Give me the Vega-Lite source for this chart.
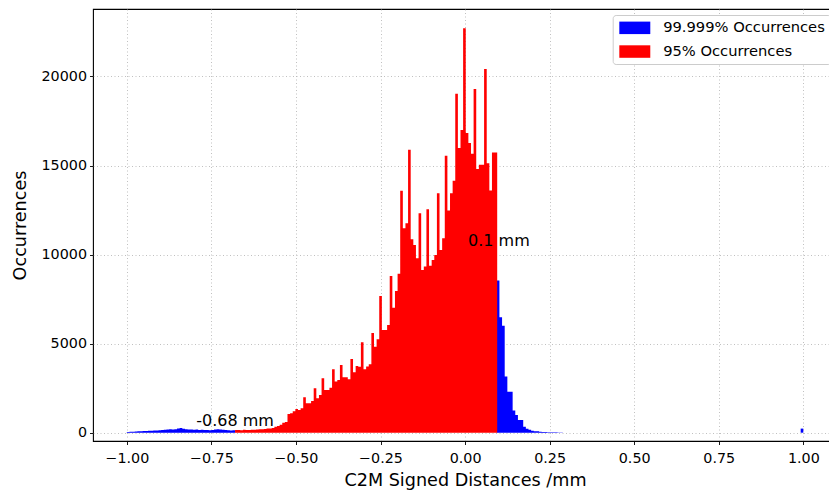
{
  "$schema": "https://vega.github.io/schema/vega-lite/v6.json",
  "width": 737,
  "height": 432,
  "autosize": {"type": "none"},
  "padding": {"left": 93, "top": 9, "right": 0, "bottom": 51},
  "background": "white",
  "config": {
    "font": "DejaVu Sans",
    "view": {"stroke": "#000000", "strokeWidth": 1.1},
    "axis": {
      "domain": false,
      "grid": true,
      "gridColor": "#b0b0b0",
      "gridDash": [1, 2.5],
      "gridWidth": 0.8,
      "tickColor": "#000000",
      "tickSize": 3.5,
      "tickWidth": 0.9,
      "labelFont": "DejaVu Sans",
      "labelFontSize": 14.3,
      "labelColor": "#000000",
      "labelPadding": 3,
      "titleFont": "DejaVu Sans",
      "titleFontSize": 17.6,
      "titleFontWeight": "normal",
      "titleColor": "#000000"
    }
  },
  "datasets": {
    "bars": [
      {"s": "99.999% Occurrences", "g": "L", "a": -1, "n": 40},
      {"s": "99.999% Occurrences", "g": "L", "a": -0.99219, "n": 55},
      {"s": "99.999% Occurrences", "g": "L", "a": -0.98438, "n": 60},
      {"s": "99.999% Occurrences", "g": "L", "a": -0.97656, "n": 70},
      {"s": "99.999% Occurrences", "g": "L", "a": -0.96875, "n": 75},
      {"s": "99.999% Occurrences", "g": "L", "a": -0.96094, "n": 85},
      {"s": "99.999% Occurrences", "g": "L", "a": -0.95313, "n": 95},
      {"s": "99.999% Occurrences", "g": "L", "a": -0.94531, "n": 100},
      {"s": "99.999% Occurrences", "g": "L", "a": -0.9375, "n": 110},
      {"s": "99.999% Occurrences", "g": "L", "a": -0.92969, "n": 105},
      {"s": "99.999% Occurrences", "g": "L", "a": -0.92188, "n": 120},
      {"s": "99.999% Occurrences", "g": "L", "a": -0.91406, "n": 125},
      {"s": "99.999% Occurrences", "g": "L", "a": -0.90625, "n": 135},
      {"s": "99.999% Occurrences", "g": "L", "a": -0.89844, "n": 150},
      {"s": "99.999% Occurrences", "g": "L", "a": -0.89063, "n": 170},
      {"s": "99.999% Occurrences", "g": "L", "a": -0.88281, "n": 180},
      {"s": "99.999% Occurrences", "g": "L", "a": -0.875, "n": 190},
      {"s": "99.999% Occurrences", "g": "L", "a": -0.86719, "n": 175},
      {"s": "99.999% Occurrences", "g": "L", "a": -0.85938, "n": 200},
      {"s": "99.999% Occurrences", "g": "L", "a": -0.85156, "n": 240},
      {"s": "99.999% Occurrences", "g": "L", "a": -0.84375, "n": 260},
      {"s": "99.999% Occurrences", "g": "L", "a": -0.83594, "n": 220},
      {"s": "99.999% Occurrences", "g": "L", "a": -0.82813, "n": 195},
      {"s": "99.999% Occurrences", "g": "L", "a": -0.82031, "n": 185},
      {"s": "99.999% Occurrences", "g": "L", "a": -0.8125, "n": 175},
      {"s": "99.999% Occurrences", "g": "L", "a": -0.80469, "n": 165},
      {"s": "99.999% Occurrences", "g": "L", "a": -0.79688, "n": 185},
      {"s": "99.999% Occurrences", "g": "L", "a": -0.78906, "n": 155},
      {"s": "99.999% Occurrences", "g": "L", "a": -0.78125, "n": 165},
      {"s": "99.999% Occurrences", "g": "L", "a": -0.77344, "n": 150},
      {"s": "99.999% Occurrences", "g": "L", "a": -0.76563, "n": 155},
      {"s": "99.999% Occurrences", "g": "L", "a": -0.75781, "n": 140},
      {"s": "99.999% Occurrences", "g": "L", "a": -0.75, "n": 155},
      {"s": "99.999% Occurrences", "g": "L", "a": -0.74219, "n": 175},
      {"s": "99.999% Occurrences", "g": "L", "a": -0.73438, "n": 200},
      {"s": "99.999% Occurrences", "g": "L", "a": -0.72656, "n": 185},
      {"s": "99.999% Occurrences", "g": "L", "a": -0.71875, "n": 165},
      {"s": "99.999% Occurrences", "g": "L", "a": -0.71094, "n": 150},
      {"s": "99.999% Occurrences", "g": "L", "a": -0.70313, "n": 140},
      {"s": "99.999% Occurrences", "g": "L", "a": -0.69531, "n": 130},
      {"s": "99.999% Occurrences", "g": "L", "a": -0.6875, "n": 140},
      {"s": "99.999% Occurrences", "g": "L", "a": -0.67969, "n": 140},
      {"s": "99.999% Occurrences", "g": "R", "a": 0.09375, "n": 8540},
      {"s": "99.999% Occurrences", "g": "R", "a": 0.10156, "n": 6480},
      {"s": "99.999% Occurrences", "g": "R", "a": 0.10938, "n": 6010},
      {"s": "99.999% Occurrences", "g": "R", "a": 0.11719, "n": 3150},
      {"s": "99.999% Occurrences", "g": "R", "a": 0.125, "n": 2300},
      {"s": "99.999% Occurrences", "g": "R", "a": 0.13281, "n": 2300},
      {"s": "99.999% Occurrences", "g": "R", "a": 0.14063, "n": 1240},
      {"s": "99.999% Occurrences", "g": "R", "a": 0.14844, "n": 990},
      {"s": "99.999% Occurrences", "g": "R", "a": 0.15625, "n": 710},
      {"s": "99.999% Occurrences", "g": "R", "a": 0.16406, "n": 710},
      {"s": "99.999% Occurrences", "g": "R", "a": 0.17188, "n": 340},
      {"s": "99.999% Occurrences", "g": "R", "a": 0.17969, "n": 225},
      {"s": "99.999% Occurrences", "g": "R", "a": 0.1875, "n": 170},
      {"s": "99.999% Occurrences", "g": "R", "a": 0.19531, "n": 112},
      {"s": "99.999% Occurrences", "g": "R", "a": 0.20313, "n": 75},
      {"s": "99.999% Occurrences", "g": "R", "a": 0.21094, "n": 75},
      {"s": "99.999% Occurrences", "g": "R", "a": 0.21875, "n": 60},
      {"s": "99.999% Occurrences", "g": "R", "a": 0.22656, "n": 40},
      {"s": "99.999% Occurrences", "g": "R", "a": 0.23438, "n": 35},
      {"s": "99.999% Occurrences", "g": "R", "a": 0.24219, "n": 30},
      {"s": "99.999% Occurrences", "g": "R", "a": 0.25, "n": 30},
      {"s": "99.999% Occurrences", "g": "R", "a": 0.25781, "n": 25},
      {"s": "99.999% Occurrences", "g": "R", "a": 0.26563, "n": 20},
      {"s": "99.999% Occurrences", "g": "R", "a": 0.27344, "n": 15},
      {"s": "99.999% Occurrences", "g": "R", "a": 0.28125, "n": 10},
      {"s": "99.999% Occurrences", "g": "R", "a": 0.28906, "n": 10},
      {"s": "99.999% Occurrences", "g": "E", "a": 0.99219, "n": 230},
      {"s": "99.999% Occurrences", "g": "E", "a": 1, "n": 230},
      {"s": "95% Occurrences", "g": "M", "a": -0.68, "n": 150},
      {"s": "95% Occurrences", "g": "M", "a": -0.67225, "n": 150},
      {"s": "95% Occurrences", "g": "M", "a": -0.6645, "n": 140},
      {"s": "95% Occurrences", "g": "M", "a": -0.65675, "n": 160},
      {"s": "95% Occurrences", "g": "M", "a": -0.649, "n": 150},
      {"s": "95% Occurrences", "g": "M", "a": -0.64125, "n": 150},
      {"s": "95% Occurrences", "g": "M", "a": -0.6335, "n": 170},
      {"s": "95% Occurrences", "g": "M", "a": -0.62575, "n": 160},
      {"s": "95% Occurrences", "g": "M", "a": -0.618, "n": 180},
      {"s": "95% Occurrences", "g": "M", "a": -0.61025, "n": 190},
      {"s": "95% Occurrences", "g": "M", "a": -0.6025, "n": 200},
      {"s": "95% Occurrences", "g": "M", "a": -0.59475, "n": 210},
      {"s": "95% Occurrences", "g": "M", "a": -0.587, "n": 230},
      {"s": "95% Occurrences", "g": "M", "a": -0.57925, "n": 240},
      {"s": "95% Occurrences", "g": "M", "a": -0.5715, "n": 260},
      {"s": "95% Occurrences", "g": "M", "a": -0.56375, "n": 340},
      {"s": "95% Occurrences", "g": "M", "a": -0.556, "n": 380},
      {"s": "95% Occurrences", "g": "M", "a": -0.54825, "n": 450},
      {"s": "95% Occurrences", "g": "M", "a": -0.5405, "n": 560},
      {"s": "95% Occurrences", "g": "M", "a": -0.53275, "n": 600},
      {"s": "95% Occurrences", "g": "M", "a": -0.525, "n": 1050},
      {"s": "95% Occurrences", "g": "M", "a": -0.51725, "n": 1090},
      {"s": "95% Occurrences", "g": "M", "a": -0.5095, "n": 1200},
      {"s": "95% Occurrences", "g": "M", "a": -0.50175, "n": 1330},
      {"s": "95% Occurrences", "g": "M", "a": -0.494, "n": 1270},
      {"s": "95% Occurrences", "g": "M", "a": -0.48625, "n": 1370},
      {"s": "95% Occurrences", "g": "M", "a": -0.4785, "n": 1985},
      {"s": "95% Occurrences", "g": "M", "a": -0.47075, "n": 1650},
      {"s": "95% Occurrences", "g": "M", "a": -0.463, "n": 1650},
      {"s": "95% Occurrences", "g": "M", "a": -0.45525, "n": 1780},
      {"s": "95% Occurrences", "g": "M", "a": -0.4475, "n": 2490},
      {"s": "95% Occurrences", "g": "M", "a": -0.43975, "n": 1930},
      {"s": "95% Occurrences", "g": "M", "a": -0.432, "n": 2120},
      {"s": "95% Occurrences", "g": "M", "a": -0.42425, "n": 3050},
      {"s": "95% Occurrences", "g": "M", "a": -0.4165, "n": 2400},
      {"s": "95% Occurrences", "g": "M", "a": -0.40875, "n": 2400},
      {"s": "95% Occurrences", "g": "M", "a": -0.401, "n": 2530},
      {"s": "95% Occurrences", "g": "M", "a": -0.39325, "n": 3560},
      {"s": "95% Occurrences", "g": "M", "a": -0.3855, "n": 2870},
      {"s": "95% Occurrences", "g": "M", "a": -0.37775, "n": 2960},
      {"s": "95% Occurrences", "g": "M", "a": -0.37, "n": 3800},
      {"s": "95% Occurrences", "g": "M", "a": -0.36225, "n": 3110},
      {"s": "95% Occurrences", "g": "M", "a": -0.3545, "n": 3110},
      {"s": "95% Occurrences", "g": "M", "a": -0.34675, "n": 3000},
      {"s": "95% Occurrences", "g": "M", "a": -0.339, "n": 4140},
      {"s": "95% Occurrences", "g": "M", "a": -0.33125, "n": 3390},
      {"s": "95% Occurrences", "g": "M", "a": -0.3235, "n": 3750},
      {"s": "95% Occurrences", "g": "M", "a": -0.31575, "n": 3700},
      {"s": "95% Occurrences", "g": "M", "a": -0.308, "n": 5080},
      {"s": "95% Occurrences", "g": "M", "a": -0.30025, "n": 3560},
      {"s": "95% Occurrences", "g": "M", "a": -0.2925, "n": 3710},
      {"s": "95% Occurrences", "g": "M", "a": -0.28475, "n": 3840},
      {"s": "95% Occurrences", "g": "M", "a": -0.277, "n": 5600},
      {"s": "95% Occurrences", "g": "M", "a": -0.26925, "n": 4830},
      {"s": "95% Occurrences", "g": "M", "a": -0.2615, "n": 5240},
      {"s": "95% Occurrences", "g": "M", "a": -0.25375, "n": 7680},
      {"s": "95% Occurrences", "g": "M", "a": -0.246, "n": 5770},
      {"s": "95% Occurrences", "g": "M", "a": -0.23825, "n": 5770},
      {"s": "95% Occurrences", "g": "M", "a": -0.2305, "n": 6050},
      {"s": "95% Occurrences", "g": "M", "a": -0.22275, "n": 8800},
      {"s": "95% Occurrences", "g": "M", "a": -0.215, "n": 7020},
      {"s": "95% Occurrences", "g": "M", "a": -0.20725, "n": 7960},
      {"s": "95% Occurrences", "g": "M", "a": -0.1995, "n": 8920},
      {"s": "95% Occurrences", "g": "M", "a": -0.19175, "n": 13580},
      {"s": "95% Occurrences", "g": "M", "a": -0.184, "n": 11480},
      {"s": "95% Occurrences", "g": "M", "a": -0.17625, "n": 11760},
      {"s": "95% Occurrences", "g": "M", "a": -0.1685, "n": 15880},
      {"s": "95% Occurrences", "g": "M", "a": -0.16075, "n": 10860},
      {"s": "95% Occurrences", "g": "M", "a": -0.153, "n": 10540},
      {"s": "95% Occurrences", "g": "M", "a": -0.14525, "n": 9800},
      {"s": "95% Occurrences", "g": "M", "a": -0.1375, "n": 12320},
      {"s": "95% Occurrences", "g": "M", "a": -0.12975, "n": 9140},
      {"s": "95% Occurrences", "g": "M", "a": -0.122, "n": 9330},
      {"s": "95% Occurrences", "g": "M", "a": -0.11425, "n": 12550},
      {"s": "95% Occurrences", "g": "M", "a": -0.1065, "n": 9370},
      {"s": "95% Occurrences", "g": "M", "a": -0.09875, "n": 9700},
      {"s": "95% Occurrences", "g": "M", "a": -0.091, "n": 9980},
      {"s": "95% Occurrences", "g": "M", "a": -0.08325, "n": 13450},
      {"s": "95% Occurrences", "g": "M", "a": -0.0755, "n": 10260},
      {"s": "95% Occurrences", "g": "M", "a": -0.06775, "n": 10920},
      {"s": "95% Occurrences", "g": "M", "a": -0.06, "n": 15550},
      {"s": "95% Occurrences", "g": "M", "a": -0.05225, "n": 12470},
      {"s": "95% Occurrences", "g": "M", "a": -0.0445, "n": 13450},
      {"s": "95% Occurrences", "g": "M", "a": -0.03675, "n": 14140},
      {"s": "95% Occurrences", "g": "M", "a": -0.029, "n": 19030},
      {"s": "95% Occurrences", "g": "M", "a": -0.02125, "n": 15980},
      {"s": "95% Occurrences", "g": "M", "a": -0.0135, "n": 17000},
      {"s": "95% Occurrences", "g": "M", "a": -0.00575, "n": 22700},
      {"s": "95% Occurrences", "g": "M", "a": 0.002, "n": 16820},
      {"s": "95% Occurrences", "g": "M", "a": 0.00975, "n": 16260},
      {"s": "95% Occurrences", "g": "M", "a": 0.0175, "n": 15660},
      {"s": "95% Occurrences", "g": "M", "a": 0.02525, "n": 19290},
      {"s": "95% Occurrences", "g": "M", "a": 0.033, "n": 14800},
      {"s": "95% Occurrences", "g": "M", "a": 0.04075, "n": 15040},
      {"s": "95% Occurrences", "g": "M", "a": 0.0485, "n": 15040},
      {"s": "95% Occurrences", "g": "M", "a": 0.05625, "n": 20420},
      {"s": "95% Occurrences", "g": "M", "a": 0.064, "n": 15130},
      {"s": "95% Occurrences", "g": "M", "a": 0.07175, "n": 13600},
      {"s": "95% Occurrences", "g": "M", "a": 0.0795, "n": 15730},
      {"s": "95% Occurrences", "g": "M", "a": 0.08725, "n": 15730},
      {"s": "95% Occurrences", "g": "M", "a": 0.095, "n": 15730}
    ],
    "notes": [
      {"a": -0.68, "n": 674, "t": "-0.68 mm"},
      {"a": 0.1, "n": 10760, "t": "0.1 mm"}
    ]
  },
  "layer": [
    {
      "data": {"name": "bars"},
      "mark": {"type": "area", "interpolate": "step-after", "opacity": 1, "strokeWidth": 0},
      "encoding": {
        "x": {
          "field": "a",
          "type": "quantitative",
          "title": "C2M Signed Distances /mm",
          "scale": {"domain": [-1.1, 1.0789], "nice": false, "zero": false},
          "axis": {
            "values": [-1, -0.75, -0.5, -0.25, 0, 0.25, 0.5, 0.75, 1],
            "format": ".2f",
            "labelPadding": 7,
            "titleX": 372,
            "titlePadding": 6
          }
        },
        "y": {
          "field": "n",
          "type": "quantitative",
          "stack": null,
          "title": "Occurrences",
          "scale": {"domain": [-466, 23787], "nice": false, "zero": false},
          "axis": {
            "values": [0, 5000, 10000, 15000, 20000],
            "format": "d",
            "titlePadding": 12
          }
        },
        "y2": {"datum": 0},
        "detail": {"field": "g", "type": "nominal"},
        "color": {
          "field": "s",
          "type": "nominal",
          "scale": {"domain": ["99.999% Occurrences", "95% Occurrences"], "range": ["#0000ff", "#ff0000"]},
          "legend": {
            "orient": "none",
            "legendX": 519.7,
            "legendY": 6,
            "title": null,
            "symbolType": "M-2.48,-1H2.48V1H-2.48Z",
            "symbolSize": 156,
            "symbolStrokeWidth": 0,
            "symbolOpacity": 1,
            "symbolOffset": 9.25,
            "labelOffset": 21,
            "labelFontSize": 14.7,
            "labelFont": "DejaVu Sans",
            "labelColor": "#000000",
            "labelLimit": 400,
            "padding": 5.5,
            "rowPadding": 7.7,
            "strokeColor": "#cccccc",
            "fillColor": "#ffffff",
            "cornerRadius": 3
          }
        }
      }
    },
    {
      "data": {"name": "notes"},
      "mark": {"type": "text", "fontSize": 16, "font": "DejaVu Sans", "color": "#000000", "baseline": "middle", "align": "center"},
      "encoding": {
        "x": {"field": "a", "type": "quantitative", "title": "C2M Signed Distances /mm"},
        "y": {"field": "n", "type": "quantitative", "title": "Occurrences"},
        "text": {"field": "t"}
      }
    }
  ]
}
